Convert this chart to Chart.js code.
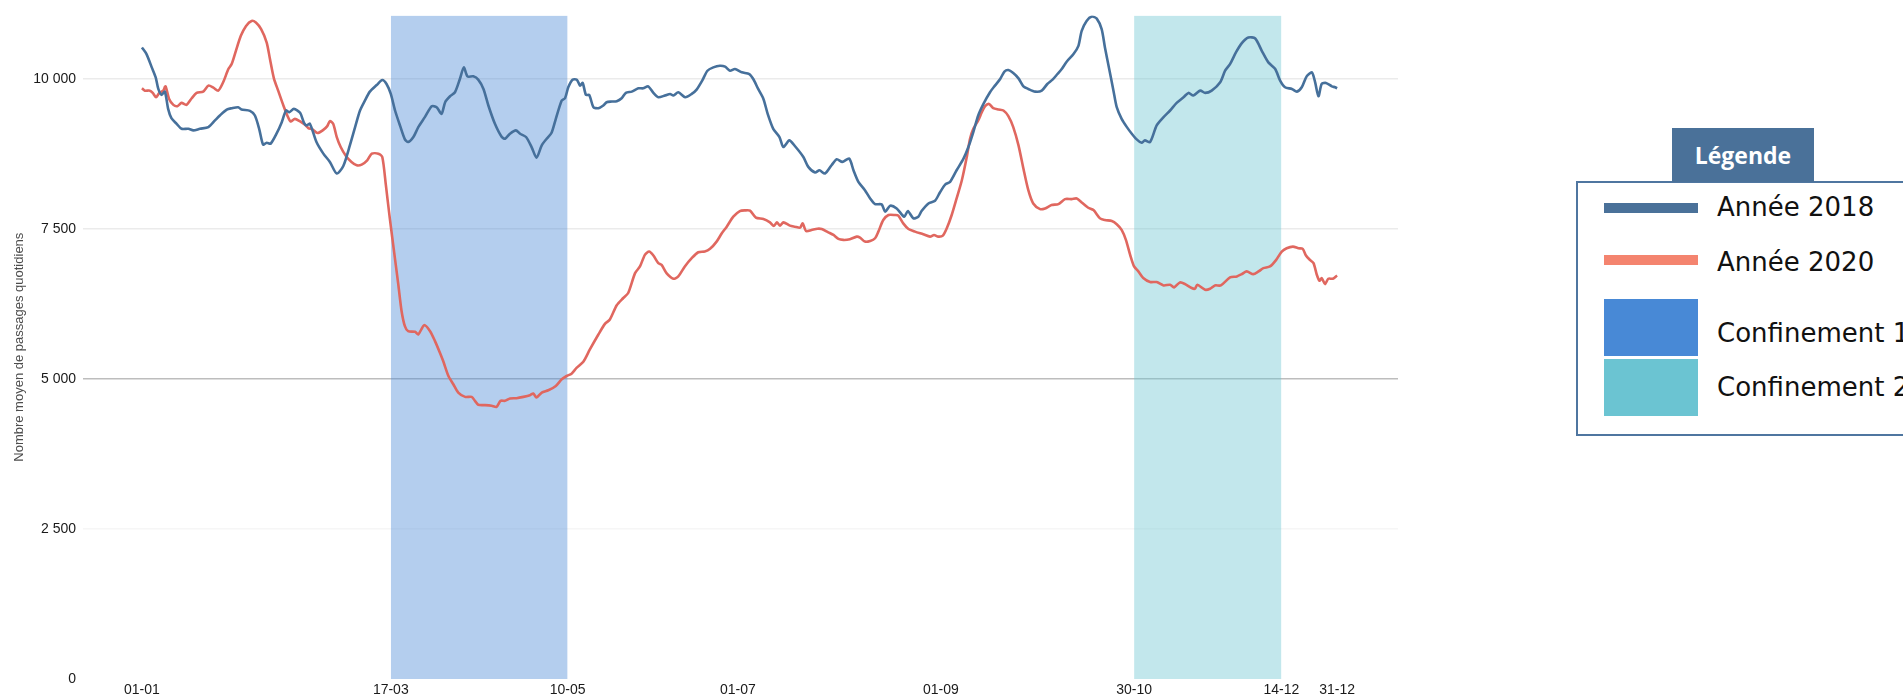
<!DOCTYPE html>
<html lang="fr">
<head>
<meta charset="utf-8">
<script src="https://cdn.jsdelivr.net/npm/chart.js@4/dist/chart.umd.min.js"></script>
<style>
  html, body { margin: 0; padding: 0; background: #fff; width: 1903px; height: 698px; overflow: hidden; }
  #wrap { position: absolute; left: 0; top: 0; width: 1420px; height: 698px; }
  .lg { position: absolute; }
  #lgBox { left: 1576px; top: 181px; width: 420px; height: 255px; border: 2px solid #4f76a0; box-sizing: border-box; background: #fff; }
  #lgHead { left: 1672px; top: 128px; width: 142px; height: 54px; background: #4a7199; color: #fff;
            font: bold 23px "Open Sans", sans-serif; display: flex; align-items: center; justify-content: center; z-index: 2; }
  .sw { position: absolute; left: 1604px; width: 94px; }
  .lt { position: absolute; left: 1717px; font: 26px "DejaVu Sans", sans-serif; color: #111; line-height: 30px; white-space: nowrap; }
</style>
</head>
<body>
<div id="wrap"><canvas id="c"></canvas></div>

<div class="lg" id="lgBox"></div>
<div class="lg" id="lgHead">Légende</div>
<div class="sw" style="top:203px;height:10px;background:#4a7199"></div>
<div class="lt" style="top:192px">Année 2018</div>
<div class="sw" style="top:255px;height:10px;background:#f4846f"></div>
<div class="lt" style="top:247px">Année 2020</div>
<div class="sw" style="top:299px;height:57px;background:#4889d6"></div>
<div class="lt" style="top:318px">Confinement 1</div>
<div class="sw" style="top:359px;height:57px;background:#6bc4d2"></div>
<div class="lt" style="top:372px">Confinement 2</div>

<script>
// ---- Data (day of year, 0 = 01-01) ----
const days2018 = [0,1.4,3,4.2,5,6,7,8,9,10.6,12.1,14.2,15.7,17.7,20.3,22.3,23.8,25.9,27.4,29.4,30.4,33,34.5,35.8,37,38.1,39.3,41.1,42.7,44,45,46.4,48.3,49.5,50.3,51.3,53.3,55.4,57.4,59.5,61.5,63.5,65.1,66.6,68.1,69.6,71.7,73.4,74.7,76,77.3,78.8,80.3,81.3,82.9,84.4,86.4,88.5,90,91.5,92.6,94.1,95.6,97.1,98.3,99.4,101.2,102.7,104.3,105.8,107.8,109.9,110.9,112.4,114.2,115.5,117.3,119,120.5,122.1,123.6,125.1,126.4,128.2,129.2,130.2,131.5,132.8,133.8,134.6,135.6,136.6,137.9,139.4,140.9,141.9,143.5,145,146.5,147.8,149.6,151.6,153.1,154.6,156.2,157.7,159.7,161.3,162.3,163.8,165.9,167.9,169.4,171.1,172.7,174.5,176.5,178.1,179.6,181.1,183.2,185.5,186.7,188.2,189.8,191.1,192.8,194.7,195.9,197.7,199.4,202,203.5,205.6,206.9,208.6,210.6,212.2,213.9,216,217.3,218.8,220.8,222.4,223.9,225.9,227,228.5,230.5,232.8,233.9,235.6,237.1,238.1,240.2,242.2,243.7,245.3,246.8,248.8,250.9,252.4,253.9,255.4,257,259,260.5,262.1,263.4,264.6,266.1,267.7,269.2,270.7,272.8,274.8,276.5,278.1,279.6,280.9,282.4,284.5,286,287,288.5,290.1,291.6,293.1,294.1,295.4,296.7,297.7,299.2,300.8,302.3,303.8,305.3,306.3,307.9,309.9,312,314,316,318.1,319.6,321.1,323.2,324.7,326.7,329.3,330.8,332.3,334.1,335.9,337.9,340,342,344,346.1,347.6,349.1,351.2,352.7,354.2,355.7,357.3,358.3,359.3,360.3,361.6,363.4,364.4,365];
const values2018 = [10525,10415,10194,10028,9834,9735,9790,9502,9347,9253,9170,9170,9143,9170,9198,9309,9392,9491,9513,9530,9491,9469,9392,9170,8905,8938,8922,9088,9281,9475,9447,9502,9436,9270,9226,9253,8949,8756,8618,8424,8551,8894,9198,9475,9641,9790,9900,9983,9917,9751,9475,9226,8994,8949,9033,9198,9364,9547,9530,9419,9613,9712,9779,10000,10194,10044,10044,9990,9834,9558,9253,9032,9005,9088,9143,9088,9033,8866,8689,8894,9005,9104,9336,9641,9679,9862,9989,9989,9889,9934,9735,9735,9530,9513,9558,9613,9624,9630,9679,9768,9790,9845,9845,9878,9768,9696,9724,9751,9724,9779,9696,9751,9823,9972,10138,10194,10221,10205,10138,10166,10111,10083,10000,9834,9668,9419,9170,9032,8866,8977,8883,8700,8535,8441,8479,8424,8562,8662,8618,8673,8479,8286,8147,8009,7915,7910,7788,7888,7843,7705,7799,7677,7705,7799,7926,7971,8109,8241,8286,8479,8673,8866,9115,9392,9585,9779,9889,10000,10122,10149,10100,10011,9878,9834,9790,9806,9917,9989,10083,10166,10288,10415,10553,10802,10968,11040,11007,10830,10525,10166,9806,9530,9336,9198,9088,8994,8938,8977,8949,9226,9364,9475,9602,9696,9768,9724,9806,9768,9806,9945,10138,10249,10442,10597,10691,10675,10470,10277,10166,9972,9862,9834,9790,9862,10044,10111,9945,9712,9917,9934,9878,9862,9845];

const days2020 = [0,0.9,2.4,3.3,4.3,5.3,6.5,7.2,8.3,9.6,10.8,12.1,13.6,15.2,16.7,18.7,20.3,21.8,23.3,24.8,26.4,27.4,28.7,30.2,31.8,33.5,34.8,36.4,38.1,39.1,40.3,41.6,43.2,44.4,45.4,46.7,48.3,49.8,50.8,52.1,53.6,55.2,56.6,57.4,58.4,59.5,60.7,62.3,64,65.6,67.1,68.8,70.2,72.2,73.4,74.5,75.7,77,78.3,79.3,80.3,81.3,83.4,84.4,86.2,88,89.5,91,92,93.6,95.1,96.6,98.7,100.7,101.7,102.7,104.8,106.8,108.3,109.5,110.9,112.4,114.4,116.5,118.5,119.5,120.5,122.1,124.1,126.4,128.2,129.7,131.2,132.8,134.8,136.8,139.4,141.4,142.9,145,147,148.5,150.6,152.1,153.6,154.9,156.2,157.7,158.7,160.2,162.3,163.8,165.8,167.9,169.9,171.9,173.5,175.5,177.1,178.6,180.6,182.6,184.2,185.7,187.5,189.8,191.8,193,193.9,194.9,195.9,197.9,199.4,201,201.8,202.8,204.5,206.3,207.6,209.6,211.2,212.7,214.2,216.2,218.3,219.3,220.8,222.4,223.9,224.9,226.4,228,230,231,232.5,234.1,236.1,238.6,240.7,241.9,243.2,244.6,245.8,247.3,248.8,250.4,251.9,252.9,253.9,255.4,256.5,257.5,258.7,260,261.6,263.1,264.6,266.1,267.7,269.2,270.7,272.2,274.3,275.8,277.8,279.9,281.9,283.9,285.5,287,289,290.6,292.6,294.1,296.2,297.7,299.2,300.5,301.8,303,304.3,305.8,307.9,309.9,312,314,315.2,317,318.6,320.6,321.6,322.3,324.7,326.2,327.7,329.5,332.3,334.4,335.9,337.4,339.4,341,342.5,344.5,346.4,348.1,349.6,351.5,353.2,354.5,355.5,356.7,357.8,358.8,359.6,360.3,361.3,362.3,363.7,365];
const values2020 = [9845,9806,9806,9768,9696,9768,9806,9878,9668,9569,9547,9602,9569,9679,9768,9790,9889,9856,9806,9945,10166,10249,10470,10719,10885,10968,10940,10830,10608,10332,10011,9806,9558,9392,9292,9336,9292,9237,9182,9160,9099,9143,9215,9298,9253,9032,8866,8717,8618,8562,8573,8645,8756,8756,8700,8230,7677,7124,6571,6129,5880,5797,5786,5742,5897,5797,5631,5438,5299,5050,4912,4774,4702,4702,4636,4570,4564,4553,4536,4636,4636,4675,4680,4702,4730,4758,4691,4774,4813,4885,4995,5050,5089,5189,5288,5493,5742,5919,5991,6229,6350,6433,6765,6876,7069,7124,7058,6931,6903,6765,6671,6710,6876,7014,7113,7124,7169,7290,7429,7539,7705,7799,7810,7805,7689,7666,7611,7550,7611,7556,7611,7556,7539,7523,7594,7467,7484,7505,7500,7445,7401,7335,7318,7329,7373,7357,7290,7301,7346,7456,7650,7733,7733,7722,7594,7500,7456,7412,7373,7401,7373,7390,7512,7733,8009,8313,8700,9005,9170,9309,9447,9547,9585,9513,9491,9475,9381,9198,8894,8507,8147,7926,7832,7843,7899,7915,7998,7998,8009,7943,7854,7816,7677,7650,7633,7578,7484,7318,7069,6876,6793,6682,6616,6616,6560,6571,6527,6610,6582,6516,6505,6571,6488,6505,6560,6560,6693,6710,6748,6793,6748,6793,6848,6876,6986,7124,7180,7207,7180,7169,7058,6986,6931,6738,6638,6682,6582,6671,6671,6726];

const lockdown1 = [76, 130];   // 17-03 -> 10-05
const lockdown2 = [303, 348];  // 30-10 -> 14-12

const xTickDays   = [0, 76, 130, 182, 244, 303, 348, 365];
const xTickLabels = ['01-01', '17-03', '10-05', '01-07', '01-09', '30-10', '14-12', '31-12'];
const yTickValues = [0, 2500, 5000, 7500, 10000];
const Y_MAX = 11060;

const toPts = (xs, ys) => xs.map((d, i) => ({ x: d, y: ys[i] }));
const fmt = v => String(v).replace(/\B(?=(\d{3})+(?!\d))/g, ' ');

new Chart(document.getElementById('c'), {
  type: 'line',
  data: {
    datasets: [
      { label: 'Année 2018', data: toPts(days2018, values2018), borderColor: '#46709b', borderWidth: 2.6,
        pointRadius: 0, tension: 0.25, fill: false, order: 1 },
      { label: 'Année 2020', data: toPts(days2020, values2020), borderColor: '#e0675f', borderWidth: 2.6,
        pointRadius: 0, tension: 0.25, fill: false, order: 2 },
      { label: 'Confinement 1', data: lockdown1.map(d => ({ x: d, y: Y_MAX })), borderWidth: 0, pointRadius: 0,
        backgroundColor: 'rgba(72,137,214,0.41)', fill: 'origin', order: 10, tension: 0 },
      { label: 'Confinement 2', data: lockdown2.map(d => ({ x: d, y: Y_MAX })), borderWidth: 0, pointRadius: 0,
        backgroundColor: 'rgba(107,196,210,0.41)', fill: 'origin', order: 11, tension: 0 }
    ]
  },
  options: {
    responsive: true,
    maintainAspectRatio: false,
    animation: false,
    events: [],
    layout: { padding: { top: 13, right: 22, left: 0, bottom: 0 } },
    plugins: { legend: { display: false }, tooltip: { enabled: false } },
    scales: {
      x: {
        type: 'linear', min: -18, max: 383.6,
        afterBuildTicks: s => { s.ticks = xTickDays.map(v => ({ value: v })); },
        afterFit: s => { s.height = 19; },
        grid: { display: false, drawTicks: false },
        border: { display: false },
        ticks: { autoSkip: false, maxRotation: 0, padding: 3, color: '#1a1a1a',
                 font: { family: '"Liberation Sans", Arial, sans-serif', size: 14 },
                 callback: v => { const i = xTickDays.indexOf(v); return i >= 0 ? xTickLabels[i] : ''; } }
      },
      y: {
        type: 'linear', min: 0, max: Y_MAX,
        afterBuildTicks: s => { s.ticks = yTickValues.map(v => ({ value: v })); },
        afterFit: s => { s.width = 83; },
        grid: { drawTicks: false, lineWidth: 1.5,
                color: c => c.tick.value === 5000 ? '#bdbdbd' : (c.tick.value === 2500 ? '#f6f6f6' : (c.tick.value === 0 ? 'rgba(0,0,0,0)' : '#ebebeb')) },
        border: { display: false },
        ticks: { padding: 7, color: '#1a1a1a', font: { family: '"Liberation Sans", Arial, sans-serif', size: 14 },
                 callback: v => fmt(v) },
        title: { display: true, text: 'Nombre moyen de passages quotidiens', color: '#4d4d4d',
                 font: { family: '"Liberation Sans", Arial, sans-serif', size: 13 }, padding: { top: 12, bottom: 0 } }
      }
    }
  }
});
</script>
</body>
</html>
